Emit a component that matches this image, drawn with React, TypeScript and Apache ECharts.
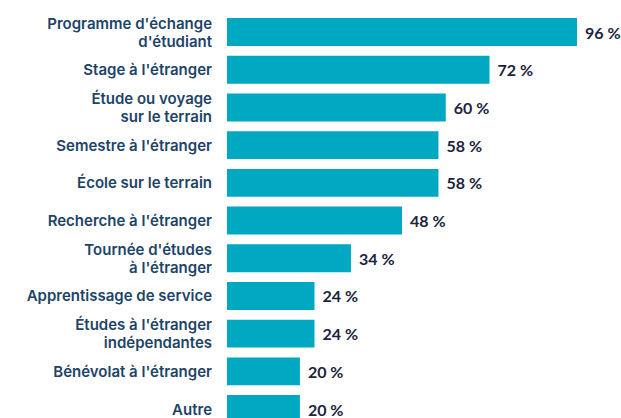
import React, { useEffect, useRef } from "react";
import * as echarts from "echarts";

const categories = [
  "Programme d'échange\nd'étudiant",
  "Stage à l'étranger",
  "Étude ou voyage\nsur le terrain",
  "Semestre à l'étranger",
  "École sur le terrain",
  "Recherche à l'étranger",
  "Tournée d'études\nà l'étranger",
  "Apprentissage de service",
  "Études à l'étranger\nindépendantes",
  "Bénévolat à l'étranger",
  "Autre",
];
const values = [96, 72, 60, 58, 58, 48, 34, 24, 24, 20, 20];

export default function App() {
  const ref = useRef<HTMLDivElement>(null);
  useEffect(() => {
    if (!ref.current) return;
    const chart = echarts.init(ref.current, null, { renderer: "svg" });
    chart.setOption({
      animation: false,
      grid: { left: 227, right: 29.4, top: 13.2, height: 414.7, containLabel: false },
      xAxis: {
        type: "value",
        min: 0,
        max: 100,
        show: false,
      },
      yAxis: {
        type: "category",
        inverse: true,
        data: categories,
        axisLine: { show: false },
        axisTick: { show: false },
        axisLabel: {
          margin: 15,
          fontFamily: "Inter",
          fontSize: 15,
          fontWeight: 600,
          color: "#1d4467",
          lineHeight: 18,
          align: "right",
        },
      },
      series: [
        {
          type: "bar",
          data: values,
          barCategoryGap: "26%",
          itemStyle: { color: "#00a8c2" },
          label: {
            show: true,
            position: "right",
            distance: 8,
            formatter: "{c} %",
            fontFamily: "Lato",
            fontSize: 16,
            fontWeight: 700,
            color: "#1b2440",
          },
        },
      ],
    });
    return () => chart.dispose();
  }, []);
  return (
    <div style={{ position: "fixed", left: 0, top: 0, width: 621, height: 418, overflow: "hidden", background: "#fff" }}>
      <div ref={ref} style={{ width: 621, height: 430 }} />
    </div>
  );
}
